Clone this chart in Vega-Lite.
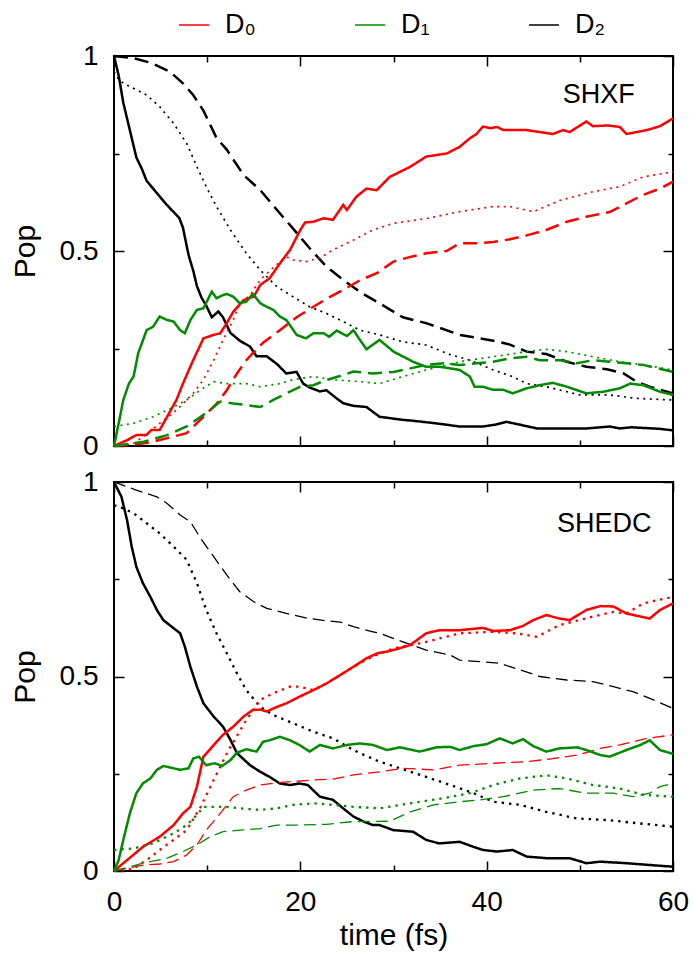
{
 "$schema": "https://vega.github.io/schema/vega-lite/v6.json",
 "padding": {"left": 9, "top": 9, "right": 5, "bottom": 2},
 "config": {
  "font": "Liberation Sans",
  "view": {"stroke": "black", "strokeWidth": 2},
  "axis": {"domain": false, "grid": false, "tickColor": "black", "tickWidth": 1.5, "labelFont": "Liberation Sans", "labelFontSize": 28, "labelColor": "black", "titleFont": "Liberation Sans", "titleFontSize": 30, "titleFontWeight": "normal", "titleColor": "black", "labelFlush": false, "labelOverlap": false}
 },
 "datasets": {
  "top": [
   {"s":"D₂","k":"solid","t":0,"v":1},{"s":"D₂","k":"solid","t":0.5,"v":0.95},{"s":"D₂","k":"solid","t":1,"v":0.88},{"s":"D₂","k":"solid","t":1.7,"v":0.81},{"s":"D₂","k":"solid","t":2.4,"v":0.74},{"s":"D₂","k":"solid","t":3,"v":0.71},{"s":"D₂","k":"solid","t":3.5,"v":0.68},{"s":"D₂","k":"solid","t":4.2,"v":0.66},{"s":"D₂","k":"solid","t":4.9,"v":0.64},{"s":"D₂","k":"solid","t":5.6,"v":0.62},{"s":"D₂","k":"solid","t":6.4,"v":0.6},{"s":"D₂","k":"solid","t":7,"v":0.585},{"s":"D₂","k":"solid","t":7.4,"v":0.56},{"s":"D₂","k":"solid","t":8,"v":0.49},{"s":"D₂","k":"solid","t":8.5,"v":0.45},{"s":"D₂","k":"solid","t":8.9,"v":0.41},{"s":"D₂","k":"solid","t":9.4,"v":0.38},{"s":"D₂","k":"solid","t":9.9,"v":0.36},{"s":"D₂","k":"solid","t":10.5,"v":0.33},{"s":"D₂","k":"solid","t":11.2,"v":0.345},{"s":"D₂","k":"solid","t":11.7,"v":0.33},{"s":"D₂","k":"solid","t":12.5,"v":0.29},{"s":"D₂","k":"solid","t":13.5,"v":0.27},{"s":"D₂","k":"solid","t":14.6,"v":0.255},{"s":"D₂","k":"solid","t":15.3,"v":0.23},{"s":"D₂","k":"solid","t":16.4,"v":0.23},{"s":"D₂","k":"solid","t":17.5,"v":0.21},{"s":"D₂","k":"solid","t":18.5,"v":0.186},{"s":"D₂","k":"solid","t":19.6,"v":0.19},{"s":"D₂","k":"solid","t":20.3,"v":0.16},{"s":"D₂","k":"solid","t":21,"v":0.15},{"s":"D₂","k":"solid","t":22.1,"v":0.14},{"s":"D₂","k":"solid","t":22.8,"v":0.143},{"s":"D₂","k":"solid","t":24,"v":0.12},{"s":"D₂","k":"solid","t":24.6,"v":0.11},{"s":"D₂","k":"solid","t":25.7,"v":0.103},{"s":"D₂","k":"solid","t":27.1,"v":0.1},{"s":"D₂","k":"solid","t":28.5,"v":0.075},{"s":"D₂","k":"solid","t":31,"v":0.067},{"s":"D₂","k":"solid","t":32,"v":0.065},{"s":"D₂","k":"solid","t":34.6,"v":0.058},{"s":"D₂","k":"solid","t":37.1,"v":0.05},{"s":"D₂","k":"solid","t":39.6,"v":0.05},{"s":"D₂","k":"solid","t":41,"v":0.055},{"s":"D₂","k":"solid","t":42.1,"v":0.062},{"s":"D₂","k":"solid","t":43.5,"v":0.055},{"s":"D₂","k":"solid","t":45.4,"v":0.045},{"s":"D₂","k":"solid","t":50.7,"v":0.045},{"s":"D₂","k":"solid","t":53.2,"v":0.05},{"s":"D₂","k":"solid","t":54.3,"v":0.045},{"s":"D₂","k":"solid","t":55.5,"v":0.048},{"s":"D₂","k":"solid","t":58.6,"v":0.044},{"s":"D₂","k":"solid","t":60,"v":0.04},
   {"s":"D₂","k":"dashed","t":0,"v":1},{"s":"D₂","k":"dashed","t":2,"v":0.995},{"s":"D₂","k":"dashed","t":3.9,"v":0.983},{"s":"D₂","k":"dashed","t":6,"v":0.96},{"s":"D₂","k":"dashed","t":7.4,"v":0.93},{"s":"D₂","k":"dashed","t":8.5,"v":0.9},{"s":"D₂","k":"dashed","t":9.6,"v":0.86},{"s":"D₂","k":"dashed","t":11,"v":0.79},{"s":"D₂","k":"dashed","t":12.1,"v":0.76},{"s":"D₂","k":"dashed","t":13.9,"v":0.695},{"s":"D₂","k":"dashed","t":15.7,"v":0.656},{"s":"D₂","k":"dashed","t":17.5,"v":0.605},{"s":"D₂","k":"dashed","t":19.2,"v":0.558},{"s":"D₂","k":"dashed","t":21,"v":0.507},{"s":"D₂","k":"dashed","t":22.8,"v":0.46},{"s":"D₂","k":"dashed","t":24.6,"v":0.426},{"s":"D₂","k":"dashed","t":26.4,"v":0.395},{"s":"D₂","k":"dashed","t":28.5,"v":0.366},{"s":"D₂","k":"dashed","t":31,"v":0.33},{"s":"D₂","k":"dashed","t":33.5,"v":0.315},{"s":"D₂","k":"dashed","t":37.1,"v":0.285},{"s":"D₂","k":"dashed","t":40.7,"v":0.27},{"s":"D₂","k":"dashed","t":42.5,"v":0.26},{"s":"D₂","k":"dashed","t":44.3,"v":0.242},{"s":"D₂","k":"dashed","t":46.4,"v":0.236},{"s":"D₂","k":"dashed","t":48.6,"v":0.216},{"s":"D₂","k":"dashed","t":50.7,"v":0.203},{"s":"D₂","k":"dashed","t":52.9,"v":0.197},{"s":"D₂","k":"dashed","t":54.7,"v":0.186},{"s":"D₂","k":"dashed","t":56.1,"v":0.165},{"s":"D₂","k":"dashed","t":57.5,"v":0.152},{"s":"D₂","k":"dashed","t":60,"v":0.135},
   {"s":"D₂","k":"dotted","t":0,"v":0.96},{"s":"D₂","k":"dotted","t":0.5,"v":0.94},{"s":"D₂","k":"dotted","t":1,"v":0.93},{"s":"D₂","k":"dotted","t":2.1,"v":0.917},{"s":"D₂","k":"dotted","t":3.5,"v":0.9},{"s":"D₂","k":"dotted","t":4.9,"v":0.87},{"s":"D₂","k":"dotted","t":6.4,"v":0.827},{"s":"D₂","k":"dotted","t":7.8,"v":0.776},{"s":"D₂","k":"dotted","t":8.9,"v":0.716},{"s":"D₂","k":"dotted","t":9.9,"v":0.665},{"s":"D₂","k":"dotted","t":11,"v":0.614},{"s":"D₂","k":"dotted","t":12.5,"v":0.554},{"s":"D₂","k":"dotted","t":14.2,"v":0.494},{"s":"D₂","k":"dotted","t":15.7,"v":0.451},{"s":"D₂","k":"dotted","t":17.5,"v":0.408},{"s":"D₂","k":"dotted","t":19.2,"v":0.383},{"s":"D₂","k":"dotted","t":21,"v":0.357},{"s":"D₂","k":"dotted","t":22.8,"v":0.34},{"s":"D₂","k":"dotted","t":24.6,"v":0.319},{"s":"D₂","k":"dotted","t":26.4,"v":0.297},{"s":"D₂","k":"dotted","t":28.5,"v":0.285},{"s":"D₂","k":"dotted","t":31,"v":0.267},{"s":"D₂","k":"dotted","t":33.5,"v":0.259},{"s":"D₂","k":"dotted","t":36,"v":0.235},{"s":"D₂","k":"dotted","t":38.2,"v":0.22},{"s":"D₂","k":"dotted","t":40.7,"v":0.195},{"s":"D₂","k":"dotted","t":42.8,"v":0.178},{"s":"D₂","k":"dotted","t":44.3,"v":0.16},{"s":"D₂","k":"dotted","t":46.4,"v":0.152},{"s":"D₂","k":"dotted","t":50,"v":0.131},{"s":"D₂","k":"dotted","t":53.2,"v":0.131},{"s":"D₂","k":"dotted","t":56.1,"v":0.122},{"s":"D₂","k":"dotted","t":60,"v":0.118},
   {"s":"D₀","k":"solid","t":0,"v":0},{"s":"D₀","k":"solid","t":1.4,"v":0.015},{"s":"D₀","k":"solid","t":2.4,"v":0.028},{"s":"D₀","k":"solid","t":3.5,"v":0.028},{"s":"D₀","k":"solid","t":4,"v":0.041},{"s":"D₀","k":"solid","t":4.9,"v":0.041},{"s":"D₀","k":"solid","t":5.7,"v":0.075},{"s":"D₀","k":"solid","t":6.7,"v":0.118},{"s":"D₀","k":"solid","t":7.4,"v":0.16},{"s":"D₀","k":"solid","t":8.5,"v":0.22},{"s":"D₀","k":"solid","t":9.6,"v":0.276},{"s":"D₀","k":"solid","t":10.7,"v":0.285},{"s":"D₀","k":"solid","t":11.4,"v":0.289},{"s":"D₀","k":"solid","t":12.1,"v":0.315},{"s":"D₀","k":"solid","t":12.8,"v":0.344},{"s":"D₀","k":"solid","t":13.9,"v":0.374},{"s":"D₀","k":"solid","t":15,"v":0.383},{"s":"D₀","k":"solid","t":15.7,"v":0.413},{"s":"D₀","k":"solid","t":16.7,"v":0.43},{"s":"D₀","k":"solid","t":17.8,"v":0.468},{"s":"D₀","k":"solid","t":18.9,"v":0.503},{"s":"D₀","k":"solid","t":20,"v":0.554},{"s":"D₀","k":"solid","t":20.5,"v":0.573},{"s":"D₀","k":"solid","t":21.4,"v":0.575},{"s":"D₀","k":"solid","t":22.5,"v":0.584},{"s":"D₀","k":"solid","t":23.5,"v":0.58},{"s":"D₀","k":"solid","t":24.6,"v":0.618},{"s":"D₀","k":"solid","t":25,"v":0.605},{"s":"D₀","k":"solid","t":26,"v":0.639},{"s":"D₀","k":"solid","t":27.1,"v":0.66},{"s":"D₀","k":"solid","t":28.2,"v":0.656},{"s":"D₀","k":"solid","t":29.6,"v":0.69},{"s":"D₀","k":"solid","t":31.8,"v":0.716},{"s":"D₀","k":"solid","t":33.5,"v":0.742},{"s":"D₀","k":"solid","t":35.7,"v":0.75},{"s":"D₀","k":"solid","t":37.1,"v":0.767},{"s":"D₀","k":"solid","t":38.2,"v":0.789},{"s":"D₀","k":"solid","t":38.9,"v":0.8},{"s":"D₀","k":"solid","t":39.6,"v":0.819},{"s":"D₀","k":"solid","t":40.4,"v":0.815},{"s":"D₀","k":"solid","t":41.1,"v":0.818},{"s":"D₀","k":"solid","t":41.8,"v":0.81},{"s":"D₀","k":"solid","t":44.3,"v":0.81},{"s":"D₀","k":"solid","t":47.1,"v":0.8},{"s":"D₀","k":"solid","t":48.2,"v":0.81},{"s":"D₀","k":"solid","t":48.9,"v":0.805},{"s":"D₀","k":"solid","t":50.7,"v":0.832},{"s":"D₀","k":"solid","t":51.4,"v":0.82},{"s":"D₀","k":"solid","t":53,"v":0.822},{"s":"D₀","k":"solid","t":54.3,"v":0.818},{"s":"D₀","k":"solid","t":55,"v":0.8},{"s":"D₀","k":"solid","t":57.2,"v":0.81},{"s":"D₀","k":"solid","t":58.6,"v":0.82},{"s":"D₀","k":"solid","t":60,"v":0.84},
   {"s":"D₀","k":"dotted","t":0,"v":0},{"s":"D₀","k":"dotted","t":2,"v":0.005},{"s":"D₀","k":"dotted","t":3.5,"v":0.03},{"s":"D₀","k":"dotted","t":4.9,"v":0.058},{"s":"D₀","k":"dotted","t":6.7,"v":0.092},{"s":"D₀","k":"dotted","t":8.5,"v":0.135},{"s":"D₀","k":"dotted","t":9.6,"v":0.17},{"s":"D₀","k":"dotted","t":10.7,"v":0.22},{"s":"D₀","k":"dotted","t":11.7,"v":0.272},{"s":"D₀","k":"dotted","t":12.8,"v":0.323},{"s":"D₀","k":"dotted","t":13.5,"v":0.366},{"s":"D₀","k":"dotted","t":14.6,"v":0.387},{"s":"D₀","k":"dotted","t":15.7,"v":0.426},{"s":"D₀","k":"dotted","t":17.2,"v":0.46},{"s":"D₀","k":"dotted","t":18.5,"v":0.485},{"s":"D₀","k":"dotted","t":19.2,"v":0.477},{"s":"D₀","k":"dotted","t":20.6,"v":0.473},{"s":"D₀","k":"dotted","t":22.1,"v":0.482},{"s":"D₀","k":"dotted","t":23.5,"v":0.503},{"s":"D₀","k":"dotted","t":25.7,"v":0.528},{"s":"D₀","k":"dotted","t":27.8,"v":0.554},{"s":"D₀","k":"dotted","t":30,"v":0.571},{"s":"D₀","k":"dotted","t":33.5,"v":0.583},{"s":"D₀","k":"dotted","t":37.1,"v":0.601},{"s":"D₀","k":"dotted","t":40.7,"v":0.614},{"s":"D₀","k":"dotted","t":42.5,"v":0.614},{"s":"D₀","k":"dotted","t":45,"v":0.601},{"s":"D₀","k":"dotted","t":47.9,"v":0.63},{"s":"D₀","k":"dotted","t":51.4,"v":0.652},{"s":"D₀","k":"dotted","t":54.3,"v":0.665},{"s":"D₀","k":"dotted","t":56.8,"v":0.69},{"s":"D₀","k":"dotted","t":60,"v":0.703},
   {"s":"D₀","k":"dashed","t":0,"v":0},{"s":"D₀","k":"dashed","t":2,"v":0.003},{"s":"D₀","k":"dashed","t":4,"v":0.01},{"s":"D₀","k":"dashed","t":6,"v":0.022},{"s":"D₀","k":"dashed","t":7.8,"v":0.033},{"s":"D₀","k":"dashed","t":9.6,"v":0.075},{"s":"D₀","k":"dashed","t":11,"v":0.108},{"s":"D₀","k":"dashed","t":12.1,"v":0.143},{"s":"D₀","k":"dashed","t":13.2,"v":0.186},{"s":"D₀","k":"dashed","t":14.2,"v":0.22},{"s":"D₀","k":"dashed","t":14.9,"v":0.238},{"s":"D₀","k":"dashed","t":16,"v":0.265},{"s":"D₀","k":"dashed","t":17.8,"v":0.297},{"s":"D₀","k":"dashed","t":19.6,"v":0.33},{"s":"D₀","k":"dashed","t":21.4,"v":0.357},{"s":"D₀","k":"dashed","t":23,"v":0.38},{"s":"D₀","k":"dashed","t":24.6,"v":0.4},{"s":"D₀","k":"dashed","t":26.4,"v":0.425},{"s":"D₀","k":"dashed","t":28.2,"v":0.443},{"s":"D₀","k":"dashed","t":30,"v":0.473},{"s":"D₀","k":"dashed","t":31.8,"v":0.485},{"s":"D₀","k":"dashed","t":33.5,"v":0.494},{"s":"D₀","k":"dashed","t":35.7,"v":0.5},{"s":"D₀","k":"dashed","t":37.1,"v":0.52},{"s":"D₀","k":"dashed","t":38.9,"v":0.52},{"s":"D₀","k":"dashed","t":40.7,"v":0.523},{"s":"D₀","k":"dashed","t":42.5,"v":0.53},{"s":"D₀","k":"dashed","t":44.3,"v":0.54},{"s":"D₀","k":"dashed","t":46.4,"v":0.554},{"s":"D₀","k":"dashed","t":48.6,"v":0.575},{"s":"D₀","k":"dashed","t":50.7,"v":0.588},{"s":"D₀","k":"dashed","t":53.2,"v":0.6},{"s":"D₀","k":"dashed","t":55,"v":0.622},{"s":"D₀","k":"dashed","t":56.8,"v":0.644},{"s":"D₀","k":"dashed","t":58.6,"v":0.66},{"s":"D₀","k":"dashed","t":60,"v":0.678},
   {"s":"D₁","k":"solid","t":0,"v":0},{"s":"D₁","k":"solid","t":0.5,"v":0.058},{"s":"D₁","k":"solid","t":1,"v":0.118},{"s":"D₁","k":"solid","t":1.6,"v":0.16},{"s":"D₁","k":"solid","t":2.1,"v":0.178},{"s":"D₁","k":"solid","t":2.6,"v":0.238},{"s":"D₁","k":"solid","t":3.5,"v":0.297},{"s":"D₁","k":"solid","t":4.2,"v":0.306},{"s":"D₁","k":"solid","t":4.9,"v":0.332},{"s":"D₁","k":"solid","t":5.7,"v":0.323},{"s":"D₁","k":"solid","t":6.4,"v":0.319},{"s":"D₁","k":"solid","t":7.1,"v":0.297},{"s":"D₁","k":"solid","t":7.6,"v":0.289},{"s":"D₁","k":"solid","t":8.2,"v":0.323},{"s":"D₁","k":"solid","t":8.9,"v":0.349},{"s":"D₁","k":"solid","t":9.6,"v":0.353},{"s":"D₁","k":"solid","t":10.5,"v":0.396},{"s":"D₁","k":"solid","t":11,"v":0.379},{"s":"D₁","k":"solid","t":11.7,"v":0.387},{"s":"D₁","k":"solid","t":12.1,"v":0.39},{"s":"D₁","k":"solid","t":12.8,"v":0.383},{"s":"D₁","k":"solid","t":13.5,"v":0.366},{"s":"D₁","k":"solid","t":14.2,"v":0.37},{"s":"D₁","k":"solid","t":14.9,"v":0.39},{"s":"D₁","k":"solid","t":15.7,"v":0.366},{"s":"D₁","k":"solid","t":16.4,"v":0.357},{"s":"D₁","k":"solid","t":17.1,"v":0.349},{"s":"D₁","k":"solid","t":17.8,"v":0.332},{"s":"D₁","k":"solid","t":18.5,"v":0.323},{"s":"D₁","k":"solid","t":19.6,"v":0.285},{"s":"D₁","k":"solid","t":20.6,"v":0.276},{"s":"D₁","k":"solid","t":21.4,"v":0.289},{"s":"D₁","k":"solid","t":22.5,"v":0.289},{"s":"D₁","k":"solid","t":23.1,"v":0.28},{"s":"D₁","k":"solid","t":23.9,"v":0.296},{"s":"D₁","k":"solid","t":25,"v":0.282},{"s":"D₁","k":"solid","t":25.7,"v":0.297},{"s":"D₁","k":"solid","t":26.4,"v":0.272},{"s":"D₁","k":"solid","t":27.1,"v":0.248},{"s":"D₁","k":"solid","t":28.5,"v":0.272},{"s":"D₁","k":"solid","t":30,"v":0.242},{"s":"D₁","k":"solid","t":32.1,"v":0.216},{"s":"D₁","k":"solid","t":33.5,"v":0.203},{"s":"D₁","k":"solid","t":35,"v":0.203},{"s":"D₁","k":"solid","t":36.1,"v":0.199},{"s":"D₁","k":"solid","t":37.1,"v":0.195},{"s":"D₁","k":"solid","t":38.2,"v":0.178},{"s":"D₁","k":"solid","t":38.7,"v":0.152},{"s":"D₁","k":"solid","t":39.6,"v":0.152},{"s":"D₁","k":"solid","t":40.7,"v":0.144},{"s":"D₁","k":"solid","t":41.8,"v":0.144},{"s":"D₁","k":"solid","t":42.8,"v":0.135},{"s":"D₁","k":"solid","t":44.3,"v":0.148},{"s":"D₁","k":"solid","t":45.7,"v":0.156},{"s":"D₁","k":"solid","t":47.1,"v":0.162},{"s":"D₁","k":"solid","t":48.6,"v":0.152},{"s":"D₁","k":"solid","t":50.7,"v":0.135},{"s":"D₁","k":"solid","t":52.5,"v":0.139},{"s":"D₁","k":"solid","t":54.3,"v":0.148},{"s":"D₁","k":"solid","t":55.4,"v":0.16},{"s":"D₁","k":"solid","t":56.8,"v":0.156},{"s":"D₁","k":"solid","t":58.6,"v":0.139},{"s":"D₁","k":"solid","t":60,"v":0.131},
   {"s":"D₁","k":"dotted","t":0,"v":0.05},{"s":"D₁","k":"dotted","t":2.1,"v":0.058},{"s":"D₁","k":"dotted","t":4.2,"v":0.075},{"s":"D₁","k":"dotted","t":6.4,"v":0.1},{"s":"D₁","k":"dotted","t":7.8,"v":0.118},{"s":"D₁","k":"dotted","t":9.3,"v":0.144},{"s":"D₁","k":"dotted","t":10.7,"v":0.165},{"s":"D₁","k":"dotted","t":12.1,"v":0.16},{"s":"D₁","k":"dotted","t":14.2,"v":0.16},{"s":"D₁","k":"dotted","t":15.7,"v":0.152},{"s":"D₁","k":"dotted","t":17.8,"v":0.16},{"s":"D₁","k":"dotted","t":19.2,"v":0.17},{"s":"D₁","k":"dotted","t":21.4,"v":0.178},{"s":"D₁","k":"dotted","t":23.5,"v":0.17},{"s":"D₁","k":"dotted","t":26.4,"v":0.165},{"s":"D₁","k":"dotted","t":28.5,"v":0.16},{"s":"D₁","k":"dotted","t":31,"v":0.178},{"s":"D₁","k":"dotted","t":33.5,"v":0.195},{"s":"D₁","k":"dotted","t":37.1,"v":0.216},{"s":"D₁","k":"dotted","t":40.7,"v":0.229},{"s":"D₁","k":"dotted","t":44.3,"v":0.242},{"s":"D₁","k":"dotted","t":46.4,"v":0.248},{"s":"D₁","k":"dotted","t":48.6,"v":0.242},{"s":"D₁","k":"dotted","t":51.4,"v":0.229},{"s":"D₁","k":"dotted","t":54.3,"v":0.216},{"s":"D₁","k":"dotted","t":56.8,"v":0.208},{"s":"D₁","k":"dotted","t":60,"v":0.195},
   {"s":"D₁","k":"dashed","t":0,"v":0},{"s":"D₁","k":"dashed","t":3.2,"v":0.011},{"s":"D₁","k":"dashed","t":5.7,"v":0.028},{"s":"D₁","k":"dashed","t":7.8,"v":0.05},{"s":"D₁","k":"dashed","t":9.3,"v":0.075},{"s":"D₁","k":"dashed","t":10.3,"v":0.092},{"s":"D₁","k":"dashed","t":11.4,"v":0.114},{"s":"D₁","k":"dashed","t":12.8,"v":0.109},{"s":"D₁","k":"dashed","t":14.2,"v":0.105},{"s":"D₁","k":"dashed","t":15.7,"v":0.1},{"s":"D₁","k":"dashed","t":17.1,"v":0.118},{"s":"D₁","k":"dashed","t":18.5,"v":0.135},{"s":"D₁","k":"dashed","t":20,"v":0.152},{"s":"D₁","k":"dashed","t":21.4,"v":0.156},{"s":"D₁","k":"dashed","t":22.8,"v":0.169},{"s":"D₁","k":"dashed","t":24.6,"v":0.182},{"s":"D₁","k":"dashed","t":25.7,"v":0.191},{"s":"D₁","k":"dashed","t":27.8,"v":0.186},{"s":"D₁","k":"dashed","t":30,"v":0.19},{"s":"D₁","k":"dashed","t":31.8,"v":0.199},{"s":"D₁","k":"dashed","t":33.5,"v":0.208},{"s":"D₁","k":"dashed","t":35.4,"v":0.212},{"s":"D₁","k":"dashed","t":37.1,"v":0.208},{"s":"D₁","k":"dashed","t":38.9,"v":0.212},{"s":"D₁","k":"dashed","t":40.7,"v":0.216},{"s":"D₁","k":"dashed","t":42.5,"v":0.225},{"s":"D₁","k":"dashed","t":44.3,"v":0.229},{"s":"D₁","k":"dashed","t":45.7,"v":0.22},{"s":"D₁","k":"dashed","t":47.9,"v":0.22},{"s":"D₁","k":"dashed","t":49.7,"v":0.212},{"s":"D₁","k":"dashed","t":51.4,"v":0.22},{"s":"D₁","k":"dashed","t":53.2,"v":0.216},{"s":"D₁","k":"dashed","t":55,"v":0.212},{"s":"D₁","k":"dashed","t":56.8,"v":0.208},{"s":"D₁","k":"dashed","t":60,"v":0.19}
  ],
  "bot": [
   {"s":"D₂","k":"solid","t":0,"v":1},{"s":"D₂","k":"solid","t":0.8,"v":0.962},{"s":"D₂","k":"solid","t":1.4,"v":0.902},{"s":"D₂","k":"solid","t":1.9,"v":0.834},{"s":"D₂","k":"solid","t":2.4,"v":0.782},{"s":"D₂","k":"solid","t":3.1,"v":0.74},{"s":"D₂","k":"solid","t":3.9,"v":0.705},{"s":"D₂","k":"solid","t":4.6,"v":0.671},{"s":"D₂","k":"solid","t":5.3,"v":0.645},{"s":"D₂","k":"solid","t":6.4,"v":0.624},{"s":"D₂","k":"solid","t":7.1,"v":0.611},{"s":"D₂","k":"solid","t":7.6,"v":0.577},{"s":"D₂","k":"solid","t":8.2,"v":0.525},{"s":"D₂","k":"solid","t":8.9,"v":0.474},{"s":"D₂","k":"solid","t":9.6,"v":0.431},{"s":"D₂","k":"solid","t":10.7,"v":0.397},{"s":"D₂","k":"solid","t":11.7,"v":0.371},{"s":"D₂","k":"solid","t":12.5,"v":0.337},{"s":"D₂","k":"solid","t":13.2,"v":0.303},{"s":"D₂","k":"solid","t":14.6,"v":0.272},{"s":"D₂","k":"solid","t":15.7,"v":0.255},{"s":"D₂","k":"solid","t":16.7,"v":0.242},{"s":"D₂","k":"solid","t":17.8,"v":0.225},{"s":"D₂","k":"solid","t":18.9,"v":0.221},{"s":"D₂","k":"solid","t":19.9,"v":0.225},{"s":"D₂","k":"solid","t":20.8,"v":0.221},{"s":"D₂","k":"solid","t":22.1,"v":0.191},{"s":"D₂","k":"solid","t":23.5,"v":0.183},{"s":"D₂","k":"solid","t":24.6,"v":0.161},{"s":"D₂","k":"solid","t":25.7,"v":0.14},{"s":"D₂","k":"solid","t":26.8,"v":0.127},{"s":"D₂","k":"solid","t":27.8,"v":0.118},{"s":"D₂","k":"solid","t":28.5,"v":0.118},{"s":"D₂","k":"solid","t":30,"v":0.105},{"s":"D₂","k":"solid","t":32.1,"v":0.101},{"s":"D₂","k":"solid","t":33.5,"v":0.08},{"s":"D₂","k":"solid","t":34.9,"v":0.071},{"s":"D₂","k":"solid","t":37.1,"v":0.075},{"s":"D₂","k":"solid","t":38.6,"v":0.062},{"s":"D₂","k":"solid","t":39.6,"v":0.054},{"s":"D₂","k":"solid","t":41.1,"v":0.05},{"s":"D₂","k":"solid","t":42.8,"v":0.054},{"s":"D₂","k":"solid","t":44.3,"v":0.037},{"s":"D₂","k":"solid","t":46.4,"v":0.033},{"s":"D₂","k":"solid","t":48.9,"v":0.033},{"s":"D₂","k":"solid","t":50.7,"v":0.02},{"s":"D₂","k":"solid","t":52.2,"v":0.024},{"s":"D₂","k":"solid","t":55,"v":0.02},{"s":"D₂","k":"solid","t":57.2,"v":0.016},{"s":"D₂","k":"solid","t":60,"v":0.011},
   {"s":"D₂","k":"dashed","t":0,"v":1},{"s":"D₂","k":"dashed","t":2.4,"v":0.979},{"s":"D₂","k":"dashed","t":4.6,"v":0.962},{"s":"D₂","k":"dashed","t":5.7,"v":0.945},{"s":"D₂","k":"dashed","t":7.1,"v":0.915},{"s":"D₂","k":"dashed","t":8.2,"v":0.898},{"s":"D₂","k":"dashed","t":9.3,"v":0.855},{"s":"D₂","k":"dashed","t":10.7,"v":0.808},{"s":"D₂","k":"dashed","t":12.1,"v":0.761},{"s":"D₂","k":"dashed","t":13.5,"v":0.718},{"s":"D₂","k":"dashed","t":15,"v":0.692},{"s":"D₂","k":"dashed","t":16.4,"v":0.675},{"s":"D₂","k":"dashed","t":18.5,"v":0.662},{"s":"D₂","k":"dashed","t":20.7,"v":0.65},{"s":"D₂","k":"dashed","t":22.8,"v":0.643},{"s":"D₂","k":"dashed","t":24.3,"v":0.64},{"s":"D₂","k":"dashed","t":25.7,"v":0.628},{"s":"D₂","k":"dashed","t":27.8,"v":0.615},{"s":"D₂","k":"dashed","t":28.5,"v":0.611},{"s":"D₂","k":"dashed","t":31,"v":0.589},{"s":"D₂","k":"dashed","t":33.5,"v":0.568},{"s":"D₂","k":"dashed","t":36.1,"v":0.555},{"s":"D₂","k":"dashed","t":37.1,"v":0.542},{"s":"D₂","k":"dashed","t":39.3,"v":0.538},{"s":"D₂","k":"dashed","t":41.4,"v":0.534},{"s":"D₂","k":"dashed","t":43.6,"v":0.517},{"s":"D₂","k":"dashed","t":45.7,"v":0.5},{"s":"D₂","k":"dashed","t":48.6,"v":0.491},{"s":"D₂","k":"dashed","t":51.4,"v":0.487},{"s":"D₂","k":"dashed","t":53.6,"v":0.474},{"s":"D₂","k":"dashed","t":55.7,"v":0.461},{"s":"D₂","k":"dashed","t":57.5,"v":0.444},{"s":"D₂","k":"dashed","t":60,"v":0.418},
   {"s":"D₂","k":"dotted","t":0,"v":0.94},{"s":"D₂","k":"dotted","t":0.5,"v":0.937},{"s":"D₂","k":"dotted","t":2.1,"v":0.92},{"s":"D₂","k":"dotted","t":3.5,"v":0.894},{"s":"D₂","k":"dotted","t":4.9,"v":0.868},{"s":"D₂","k":"dotted","t":6.4,"v":0.834},{"s":"D₂","k":"dotted","t":7.8,"v":0.8},{"s":"D₂","k":"dotted","t":8.9,"v":0.74},{"s":"D₂","k":"dotted","t":9.9,"v":0.671},{"s":"D₂","k":"dotted","t":11,"v":0.611},{"s":"D₂","k":"dotted","t":12.1,"v":0.56},{"s":"D₂","k":"dotted","t":13.2,"v":0.508},{"s":"D₂","k":"dotted","t":14.2,"v":0.465},{"s":"D₂","k":"dotted","t":15.7,"v":0.422},{"s":"D₂","k":"dotted","t":17.1,"v":0.401},{"s":"D₂","k":"dotted","t":19.2,"v":0.38},{"s":"D₂","k":"dotted","t":21.4,"v":0.358},{"s":"D₂","k":"dotted","t":23.5,"v":0.341},{"s":"D₂","k":"dotted","t":25.7,"v":0.311},{"s":"D₂","k":"dotted","t":26.4,"v":0.303},{"s":"D₂","k":"dotted","t":28.5,"v":0.281},{"s":"D₂","k":"dotted","t":30.7,"v":0.264},{"s":"D₂","k":"dotted","t":33.5,"v":0.242},{"s":"D₂","k":"dotted","t":36.1,"v":0.221},{"s":"D₂","k":"dotted","t":38.6,"v":0.2},{"s":"D₂","k":"dotted","t":40.7,"v":0.178},{"s":"D₂","k":"dotted","t":43.6,"v":0.17},{"s":"D₂","k":"dotted","t":46.4,"v":0.152},{"s":"D₂","k":"dotted","t":49.7,"v":0.135},{"s":"D₂","k":"dotted","t":52.9,"v":0.131},{"s":"D₂","k":"dotted","t":56.1,"v":0.123},{"s":"D₂","k":"dotted","t":60,"v":0.114},
   {"s":"D₀","k":"solid","t":0,"v":0},{"s":"D₀","k":"solid","t":1.4,"v":0.028},{"s":"D₀","k":"solid","t":3.1,"v":0.062},{"s":"D₀","k":"solid","t":4.9,"v":0.088},{"s":"D₀","k":"solid","t":6.4,"v":0.118},{"s":"D₀","k":"solid","t":7.4,"v":0.148},{"s":"D₀","k":"solid","t":8.2,"v":0.165},{"s":"D₀","k":"solid","t":8.9,"v":0.217},{"s":"D₀","k":"solid","t":9.6,"v":0.294},{"s":"D₀","k":"solid","t":10.1,"v":0.307},{"s":"D₀","k":"solid","t":11,"v":0.332},{"s":"D₀","k":"solid","t":11.7,"v":0.35},{"s":"D₀","k":"solid","t":12.8,"v":0.371},{"s":"D₀","k":"solid","t":13.9,"v":0.397},{"s":"D₀","k":"solid","t":14.9,"v":0.414},{"s":"D₀","k":"solid","t":15.7,"v":0.415},{"s":"D₀","k":"solid","t":16.4,"v":0.41},{"s":"D₀","k":"solid","t":17.5,"v":0.422},{"s":"D₀","k":"solid","t":18.5,"v":0.431},{"s":"D₀","k":"solid","t":19.9,"v":0.448},{"s":"D₀","k":"solid","t":21.4,"v":0.465},{"s":"D₀","k":"solid","t":22.8,"v":0.482},{"s":"D₀","k":"solid","t":24.3,"v":0.504},{"s":"D₀","k":"solid","t":25.7,"v":0.525},{"s":"D₀","k":"solid","t":27.1,"v":0.547},{"s":"D₀","k":"solid","t":28.3,"v":0.56},{"s":"D₀","k":"solid","t":29.3,"v":0.564},{"s":"D₀","k":"solid","t":30.3,"v":0.57},{"s":"D₀","k":"solid","t":31.8,"v":0.581},{"s":"D₀","k":"solid","t":33.5,"v":0.611},{"s":"D₀","k":"solid","t":34.9,"v":0.619},{"s":"D₀","k":"solid","t":37.1,"v":0.619},{"s":"D₀","k":"solid","t":39.6,"v":0.625},{"s":"D₀","k":"solid","t":40.7,"v":0.617},{"s":"D₀","k":"solid","t":42.5,"v":0.619},{"s":"D₀","k":"solid","t":43.9,"v":0.63},{"s":"D₀","k":"solid","t":45,"v":0.645},{"s":"D₀","k":"solid","t":46.4,"v":0.658},{"s":"D₀","k":"solid","t":47.8,"v":0.649},{"s":"D₀","k":"solid","t":48.9,"v":0.645},{"s":"D₀","k":"solid","t":50.7,"v":0.671},{"s":"D₀","k":"solid","t":52.2,"v":0.681},{"s":"D₀","k":"solid","t":53.6,"v":0.68},{"s":"D₀","k":"solid","t":55,"v":0.662},{"s":"D₀","k":"solid","t":57.5,"v":0.649},{"s":"D₀","k":"solid","t":58.6,"v":0.671},{"s":"D₀","k":"solid","t":60,"v":0.688},
   {"s":"D₀","k":"dotted","t":0,"v":0},{"s":"D₀","k":"dotted","t":2,"v":0.005},{"s":"D₀","k":"dotted","t":3.5,"v":0.028},{"s":"D₀","k":"dotted","t":4.9,"v":0.054},{"s":"D₀","k":"dotted","t":6.4,"v":0.08},{"s":"D₀","k":"dotted","t":7.8,"v":0.105},{"s":"D₀","k":"dotted","t":9.3,"v":0.165},{"s":"D₀","k":"dotted","t":10.7,"v":0.234},{"s":"D₀","k":"dotted","t":12.3,"v":0.311},{"s":"D₀","k":"dotted","t":14.2,"v":0.388},{"s":"D₀","k":"dotted","t":15.7,"v":0.44},{"s":"D₀","k":"dotted","t":17.1,"v":0.457},{"s":"D₀","k":"dotted","t":18.9,"v":0.474},{"s":"D₀","k":"dotted","t":19.9,"v":0.474},{"s":"D₀","k":"dotted","t":21.4,"v":0.465},{"s":"D₀","k":"dotted","t":22.8,"v":0.482},{"s":"D₀","k":"dotted","t":24.3,"v":0.504},{"s":"D₀","k":"dotted","t":25.7,"v":0.525},{"s":"D₀","k":"dotted","t":27.8,"v":0.552},{"s":"D₀","k":"dotted","t":30,"v":0.572},{"s":"D₀","k":"dotted","t":33.5,"v":0.589},{"s":"D₀","k":"dotted","t":37.1,"v":0.611},{"s":"D₀","k":"dotted","t":40.7,"v":0.615},{"s":"D₀","k":"dotted","t":43.2,"v":0.611},{"s":"D₀","k":"dotted","t":45.4,"v":0.602},{"s":"D₀","k":"dotted","t":47.8,"v":0.632},{"s":"D₀","k":"dotted","t":51.4,"v":0.654},{"s":"D₀","k":"dotted","t":53.6,"v":0.666},{"s":"D₀","k":"dotted","t":55,"v":0.662},{"s":"D₀","k":"dotted","t":56.8,"v":0.688},{"s":"D₀","k":"dotted","t":60,"v":0.705},
   {"s":"D₀","k":"dashed","t":0,"v":0},{"s":"D₀","k":"dashed","t":3.1,"v":0.015},{"s":"D₀","k":"dashed","t":4.9,"v":0.018},{"s":"D₀","k":"dashed","t":6.4,"v":0.024},{"s":"D₀","k":"dashed","t":7.8,"v":0.041},{"s":"D₀","k":"dashed","t":8.9,"v":0.067},{"s":"D₀","k":"dashed","t":9.9,"v":0.105},{"s":"D₀","k":"dashed","t":11.4,"v":0.148},{"s":"D₀","k":"dashed","t":12.8,"v":0.191},{"s":"D₀","k":"dashed","t":14.2,"v":0.208},{"s":"D₀","k":"dashed","t":15.7,"v":0.221},{"s":"D₀","k":"dashed","t":17.5,"v":0.227},{"s":"D₀","k":"dashed","t":19.2,"v":0.23},{"s":"D₀","k":"dashed","t":21.4,"v":0.234},{"s":"D₀","k":"dashed","t":23.5,"v":0.236},{"s":"D₀","k":"dashed","t":25.7,"v":0.247},{"s":"D₀","k":"dashed","t":28.5,"v":0.255},{"s":"D₀","k":"dashed","t":31,"v":0.264},{"s":"D₀","k":"dashed","t":34.3,"v":0.26},{"s":"D₀","k":"dashed","t":37.1,"v":0.272},{"s":"D₀","k":"dashed","t":40.7,"v":0.277},{"s":"D₀","k":"dashed","t":44.3,"v":0.281},{"s":"D₀","k":"dashed","t":47.1,"v":0.289},{"s":"D₀","k":"dashed","t":49.7,"v":0.298},{"s":"D₀","k":"dashed","t":52.2,"v":0.315},{"s":"D₀","k":"dashed","t":54.3,"v":0.324},{"s":"D₀","k":"dashed","t":57.2,"v":0.341},{"s":"D₀","k":"dashed","t":60,"v":0.35},
   {"s":"D₁","k":"solid","t":0,"v":0},{"s":"D₁","k":"solid","t":0.5,"v":0.028},{"s":"D₁","k":"solid","t":1,"v":0.08},{"s":"D₁","k":"solid","t":1.7,"v":0.148},{"s":"D₁","k":"solid","t":2.4,"v":0.2},{"s":"D₁","k":"solid","t":3.1,"v":0.225},{"s":"D₁","k":"solid","t":3.9,"v":0.238},{"s":"D₁","k":"solid","t":4.6,"v":0.26},{"s":"D₁","k":"solid","t":5.3,"v":0.27},{"s":"D₁","k":"solid","t":6.4,"v":0.264},{"s":"D₁","k":"solid","t":7.1,"v":0.26},{"s":"D₁","k":"solid","t":8,"v":0.264},{"s":"D₁","k":"solid","t":8.5,"v":0.289},{"s":"D₁","k":"solid","t":9.1,"v":0.294},{"s":"D₁","k":"solid","t":9.9,"v":0.272},{"s":"D₁","k":"solid","t":10.8,"v":0.277},{"s":"D₁","k":"solid","t":11.6,"v":0.27},{"s":"D₁","k":"solid","t":12.5,"v":0.285},{"s":"D₁","k":"solid","t":13.2,"v":0.304},{"s":"D₁","k":"solid","t":14.2,"v":0.313},{"s":"D₁","k":"solid","t":15.3,"v":0.307},{"s":"D₁","k":"solid","t":16,"v":0.332},{"s":"D₁","k":"solid","t":16.7,"v":0.336},{"s":"D₁","k":"solid","t":17.8,"v":0.345},{"s":"D₁","k":"solid","t":18.9,"v":0.336},{"s":"D₁","k":"solid","t":19.9,"v":0.324},{"s":"D₁","k":"solid","t":21,"v":0.307},{"s":"D₁","k":"solid","t":22.1,"v":0.324},{"s":"D₁","k":"solid","t":23.5,"v":0.315},{"s":"D₁","k":"solid","t":25,"v":0.324},{"s":"D₁","k":"solid","t":26.4,"v":0.328},{"s":"D₁","k":"solid","t":27.8,"v":0.324},{"s":"D₁","k":"solid","t":29.3,"v":0.311},{"s":"D₁","k":"solid","t":30.7,"v":0.318},{"s":"D₁","k":"solid","t":32.8,"v":0.307},{"s":"D₁","k":"solid","t":34.6,"v":0.318},{"s":"D₁","k":"solid","t":36.1,"v":0.319},{"s":"D₁","k":"solid","t":37.1,"v":0.311},{"s":"D₁","k":"solid","t":38.6,"v":0.321},{"s":"D₁","k":"solid","t":40,"v":0.326},{"s":"D₁","k":"solid","t":41.4,"v":0.341},{"s":"D₁","k":"solid","t":42.8,"v":0.328},{"s":"D₁","k":"solid","t":43.9,"v":0.339},{"s":"D₁","k":"solid","t":45,"v":0.321},{"s":"D₁","k":"solid","t":46.4,"v":0.307},{"s":"D₁","k":"solid","t":47.8,"v":0.315},{"s":"D₁","k":"solid","t":49.7,"v":0.318},{"s":"D₁","k":"solid","t":50.7,"v":0.311},{"s":"D₁","k":"solid","t":52.2,"v":0.298},{"s":"D₁","k":"solid","t":53.2,"v":0.294},{"s":"D₁","k":"solid","t":55,"v":0.311},{"s":"D₁","k":"solid","t":56.5,"v":0.324},{"s":"D₁","k":"solid","t":57.5,"v":0.336},{"s":"D₁","k":"solid","t":58.6,"v":0.311},{"s":"D₁","k":"solid","t":60,"v":0.301},
   {"s":"D₁","k":"dotted","t":0,"v":0.054},{"s":"D₁","k":"dotted","t":2.1,"v":0.058},{"s":"D₁","k":"dotted","t":4.2,"v":0.071},{"s":"D₁","k":"dotted","t":6.4,"v":0.097},{"s":"D₁","k":"dotted","t":7.8,"v":0.118},{"s":"D₁","k":"dotted","t":8.9,"v":0.144},{"s":"D₁","k":"dotted","t":9.6,"v":0.165},{"s":"D₁","k":"dotted","t":10.7,"v":0.165},{"s":"D₁","k":"dotted","t":12.1,"v":0.165},{"s":"D₁","k":"dotted","t":13.5,"v":0.161},{"s":"D₁","k":"dotted","t":15.7,"v":0.157},{"s":"D₁","k":"dotted","t":17.5,"v":0.161},{"s":"D₁","k":"dotted","t":19.2,"v":0.17},{"s":"D₁","k":"dotted","t":21.4,"v":0.174},{"s":"D₁","k":"dotted","t":23.5,"v":0.17},{"s":"D₁","k":"dotted","t":25.7,"v":0.165},{"s":"D₁","k":"dotted","t":28.5,"v":0.161},{"s":"D₁","k":"dotted","t":31.8,"v":0.174},{"s":"D₁","k":"dotted","t":35.3,"v":0.187},{"s":"D₁","k":"dotted","t":38.2,"v":0.2},{"s":"D₁","k":"dotted","t":40.7,"v":0.221},{"s":"D₁","k":"dotted","t":43.6,"v":0.238},{"s":"D₁","k":"dotted","t":46.4,"v":0.246},{"s":"D₁","k":"dotted","t":48.6,"v":0.238},{"s":"D₁","k":"dotted","t":51.4,"v":0.221},{"s":"D₁","k":"dotted","t":54.3,"v":0.212},{"s":"D₁","k":"dotted","t":56.8,"v":0.196},{"s":"D₁","k":"dotted","t":60,"v":0.191},
   {"s":"D₁","k":"dashed","t":0,"v":0},{"s":"D₁","k":"dashed","t":3.1,"v":0.02},{"s":"D₁","k":"dashed","t":5.7,"v":0.033},{"s":"D₁","k":"dashed","t":7.4,"v":0.05},{"s":"D₁","k":"dashed","t":8.9,"v":0.067},{"s":"D₁","k":"dashed","t":10.3,"v":0.088},{"s":"D₁","k":"dashed","t":11.7,"v":0.101},{"s":"D₁","k":"dashed","t":13.5,"v":0.105},{"s":"D₁","k":"dashed","t":15.7,"v":0.109},{"s":"D₁","k":"dashed","t":17.5,"v":0.118},{"s":"D₁","k":"dashed","t":19.9,"v":0.118},{"s":"D₁","k":"dashed","t":22.8,"v":0.12},{"s":"D₁","k":"dashed","t":25.7,"v":0.127},{"s":"D₁","k":"dashed","t":29.6,"v":0.128},{"s":"D₁","k":"dashed","t":31.8,"v":0.152},{"s":"D₁","k":"dashed","t":34.3,"v":0.17},{"s":"D₁","k":"dashed","t":37.1,"v":0.178},{"s":"D₁","k":"dashed","t":39.3,"v":0.183},{"s":"D₁","k":"dashed","t":41.8,"v":0.191},{"s":"D₁","k":"dashed","t":45,"v":0.208},{"s":"D₁","k":"dashed","t":47.8,"v":0.212},{"s":"D₁","k":"dashed","t":50.7,"v":0.2},{"s":"D₁","k":"dashed","t":53.6,"v":0.2},{"s":"D₁","k":"dashed","t":55.7,"v":0.191},{"s":"D₁","k":"dashed","t":57.5,"v":0.2},{"s":"D₁","k":"dashed","t":58.6,"v":0.217},{"s":"D₁","k":"dashed","t":60,"v":0.225}
  ]
 },
 "spacing": 6,
 "vconcat": [
  {
   "width": 559, "height": 390,
   "layer": [
    {
     "data": {"name": "top"},
     "mark": {"type": "line"},
     "encoding": {
      "x": {"field": "t", "type": "quantitative", "scale": {"domain": [0, 60], "nice": false, "zero": false},
            "axis": {"orient": "bottom", "values": [0,10,20,30,40,50,60], "labels": false, "title": null,
                     "tickSize": {"condition": {"test": "datum.value % 20 === 0", "value": -10}, "value": -6}}},
      "y": {"field": "v", "type": "quantitative", "scale": {"domain": [0, 1], "nice": false},
            "axis": {"orient": "left", "values": [0,0.25,0.5,0.75,1], "format": "~g", "labelExpr": "datum.value == 0.25 || datum.value == 0.75 ? '' : datum.label", "labelPadding": 26, "title": "Pop", "titlePadding": 19,
                     "tickSize": {"condition": {"test": "datum.value % 0.5 === 0", "value": -10}, "value": -5}}},
      "color": {"field": "s", "type": "nominal", "scale": {"domain": ["D₀","D₁","D₂"], "range": ["#ff0000","#008b00","#000000"]},
                "legend": {"orient": "none", "legendX": 64, "legendY": -47, "direction": "horizontal", "title": null, "symbolType": "stroke", "symbolSize": 900, "symbolStrokeWidth": 1.5, "labelFontSize": 27, "labelFont": "Liberation Sans", "labelColor": "black", "labelOffset": 15, "columnPadding": 96}},
      "strokeDash": {"field": "k", "type": "nominal", "scale": {"domain": ["solid","dotted","dashed"], "range": [[1,0],[2,4.5],[14,7]]}, "legend": null},
      "strokeWidth": {"field": "k", "type": "nominal", "scale": {"type": "ordinal", "domain": ["solid","dotted","dashed"], "range": [2.5,1.7,2.5]}, "legend": null}
     }
    },
    {
     "data": {"values": [{"t": 55.9, "v": 0.879, "label": "SHXF"}]},
     "mark": {"type": "text", "align": "right", "baseline": "alphabetic", "fontSize": 27, "font": "Liberation Sans", "color": "black"},
     "encoding": {
      "x": {"field": "t", "type": "quantitative", "scale": {"domain": [0, 60], "nice": false, "zero": false}, "axis": null},
      "y": {"field": "v", "type": "quantitative", "scale": {"domain": [0, 1], "nice": false}, "axis": null},
      "text": {"field": "label"}
     }
    },
    {
     "data": {"values": [{"t": 0, "v": 0}]},
     "mark": {"type": "point", "opacity": 0},
     "encoding": {
      "x": {"field": "t", "type": "quantitative", "scale": {"domain": [0, 60], "nice": false, "zero": false},
            "axis": {"orient": "top", "values": [0,10,20,30,40,50,60], "labels": false, "title": null,
                     "tickSize": {"condition": {"test": "datum.value % 20 === 0", "value": -10}, "value": -6}}},
      "y": {"field": "v", "type": "quantitative", "scale": {"domain": [0, 1], "nice": false},
            "axis": {"orient": "right", "values": [0,0.25,0.5,0.75,1], "labels": false, "title": null,
                     "tickSize": {"condition": {"test": "datum.value % 0.5 === 0", "value": -10}, "value": -5}}}
     }
    }
   ],
   "resolve": {"scale": {"x": "independent", "y": "independent"}}
  },
  {
   "width": 559, "height": 389,
   "layer": [
    {
     "data": {"name": "bot"},
     "mark": {"type": "line"},
     "encoding": {
      "x": {"field": "t", "type": "quantitative", "scale": {"domain": [0, 60], "nice": false, "zero": false},
            "axis": {"orient": "bottom", "values": [0,10,20,30,40,50,60], "labelExpr": "datum.value % 20 === 0 ? datum.label : ''", "labelPadding": 27, "title": "time (fs)", "titlePadding": 0,
                     "tickSize": {"condition": {"test": "datum.value % 20 === 0", "value": -10}, "value": -6}}},
      "y": {"field": "v", "type": "quantitative", "scale": {"domain": [0, 1], "nice": false},
            "axis": {"orient": "left", "values": [0,0.25,0.5,0.75,1], "format": "~g", "labelExpr": "datum.value == 0.25 || datum.value == 0.75 ? '' : datum.label", "labelPadding": 26, "title": "Pop", "titlePadding": 19,
                     "tickSize": {"condition": {"test": "datum.value % 0.5 === 0", "value": -10}, "value": -5}}},
      "color": {"field": "s", "type": "nominal", "scale": {"domain": ["D₀","D₁","D₂"], "range": ["#ff0000","#008b00","#000000"]},
                "legend": {"orient": "none", "legendX": 64, "legendY": -47, "direction": "horizontal", "title": null, "symbolType": "stroke", "symbolSize": 900, "symbolStrokeWidth": 1.5, "labelFontSize": 27, "labelFont": "Liberation Sans", "labelColor": "black", "labelOffset": 15, "columnPadding": 96}},
      "strokeDash": {"field": "k", "type": "nominal", "scale": {"domain": ["solid","dotted","dashed"], "range": [[1,0],[2.4,5],[12,6]]}, "legend": null},
      "strokeWidth": {"field": "k", "type": "nominal", "scale": {"type": "ordinal", "domain": ["solid","dotted","dashed"], "range": [2.5,2.3,1.3]}, "legend": null}
     }
    },
    {
     "data": {"values": [{"t": 57.7, "v": 0.871, "label": "SHEDC"}]},
     "mark": {"type": "text", "align": "right", "baseline": "alphabetic", "fontSize": 27, "font": "Liberation Sans", "color": "black"},
     "encoding": {
      "x": {"field": "t", "type": "quantitative", "scale": {"domain": [0, 60], "nice": false, "zero": false}, "axis": null},
      "y": {"field": "v", "type": "quantitative", "scale": {"domain": [0, 1], "nice": false}, "axis": null},
      "text": {"field": "label"}
     }
    },
    {
     "data": {"values": [{"t": 0, "v": 0}]},
     "mark": {"type": "point", "opacity": 0},
     "encoding": {
      "x": {"field": "t", "type": "quantitative", "scale": {"domain": [0, 60], "nice": false, "zero": false},
            "axis": {"orient": "top", "values": [0,10,20,30,40,50,60], "labels": false, "title": null,
                     "tickSize": {"condition": {"test": "datum.value % 20 === 0", "value": -10}, "value": -6}}},
      "y": {"field": "v", "type": "quantitative", "scale": {"domain": [0, 1], "nice": false},
            "axis": {"orient": "right", "values": [0,0.25,0.5,0.75,1], "labels": false, "title": null,
                     "tickSize": {"condition": {"test": "datum.value % 0.5 === 0", "value": -10}, "value": -5}}}
     }
    }
   ],
   "resolve": {"scale": {"x": "independent", "y": "independent"}}
  }
 ],
 "resolve": {"scale": {"strokeDash": "independent", "strokeWidth": "independent"}}
}
